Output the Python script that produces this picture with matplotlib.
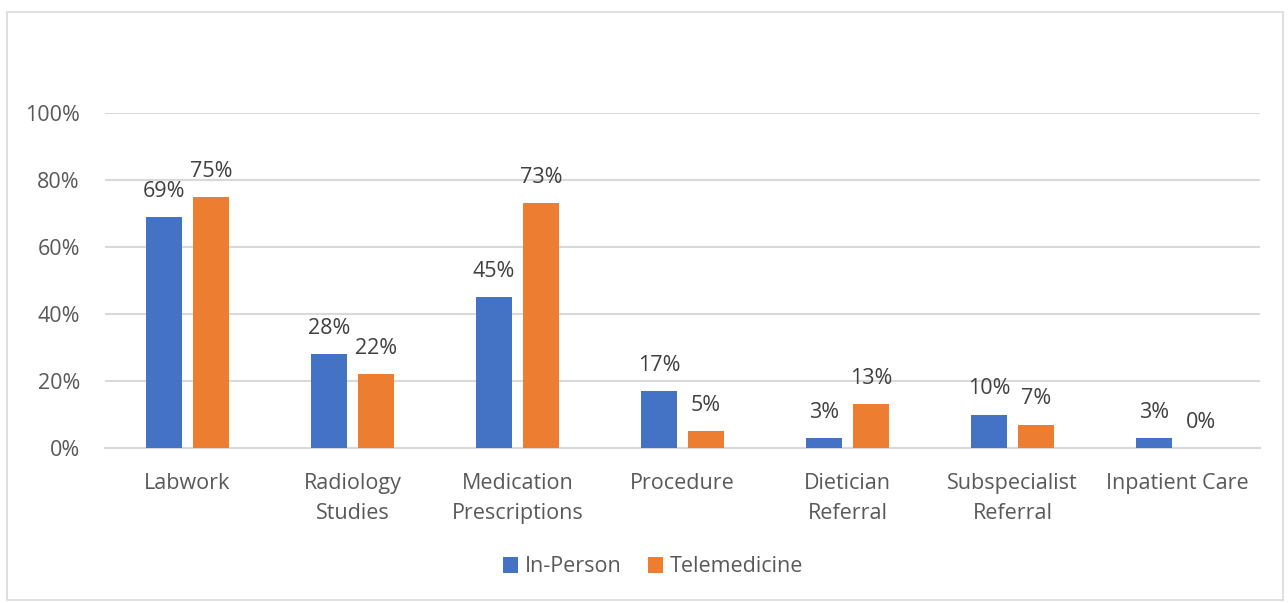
import numpy as np
import matplotlib
matplotlib.use('Agg')
import matplotlib.pyplot as plt
from matplotlib.patches import Rectangle

CATEGORIES = ['Labwork', 'Radiology\nStudies', 'Medication\nPrescriptions', 'Procedure',
              'Dietician\nReferral', 'Subspecialist\nReferral', 'Inpatient Care']
IN_PERSON = [69, 28, 45, 17, 3, 10, 3]
TELEMEDICINE = [75, 22, 73, 5, 13, 7, 0]
Y_TICKS = [0, 20, 40, 60, 80, 100]

BLUE = '#4472C4'
ORANGE = '#ED7D31'
GRID = '#D9D9D9'
TEXT = '#595959'
FS = 15.5

plt.rcParams['font.family'] = ['Open Sans', 'DejaVu Sans']

fig = plt.figure(figsize=(12.88, 6.03), dpi=100)
ax = fig.add_axes([105 / 1288, 1 - 448 / 603, 1155 / 1288, 335 / 603])

# light frame around the whole chart area
fig.patches.append(Rectangle((7 / 1288, 3 / 603), 1276 / 1288, 588 / 603,
                             transform=fig.transFigure, fill=False,
                             edgecolor=GRID, linewidth=1.2))

x = np.arange(len(CATEGORIES))
width = 0.224
offset = 0.1424

b1 = ax.bar(x - offset, IN_PERSON, width, color=BLUE, label='In-Person', zorder=3)
b2 = ax.bar(x + offset, TELEMEDICINE, width, color=ORANGE, label='Telemedicine', zorder=3)

# data labels above each bar
for bars, vals in ((b1, IN_PERSON), (b2, TELEMEDICINE)):
    for rect, v in zip(bars, vals):
        ax.annotate(f'{v}%', (rect.get_x() + rect.get_width() / 2, v),
                    xytext=(0, 18.5), textcoords='offset points',
                    ha='center', va='center', fontsize=FS, color='#404040')

ax.set_xlim(-0.5, len(CATEGORIES) - 0.5)
ax.set_ylim(0, 100)
ax.set_yticks(Y_TICKS)
ax.set_yticklabels([f'{t}%' for t in Y_TICKS])
ax.set_xticks(x)
ax.set_xticklabels(CATEGORIES, linespacing=1.55)
ax.tick_params(axis='both', length=0, labelsize=FS, labelcolor=TEXT)
ax.tick_params(axis='y', pad=18)
ax.tick_params(axis='x', pad=18)

ax.grid(axis='y', color=GRID, linewidth=1.5, zorder=0)
for s in ('top', 'right', 'left'):
    ax.spines[s].set_visible(False)
ax.spines['bottom'].set_color(GRID)
ax.spines['bottom'].set_linewidth(1.5)

fig.legend(handles=[b1, b2], loc='center', bbox_to_anchor=(653 / 1288, 1 - 567 / 603),
           ncol=2, frameon=False, fontsize=FS, labelcolor=TEXT,
           handlelength=0.7, handleheight=0.7, handletextpad=0.3, columnspacing=1.25)

fig.savefig('out.png', dpi=100)
